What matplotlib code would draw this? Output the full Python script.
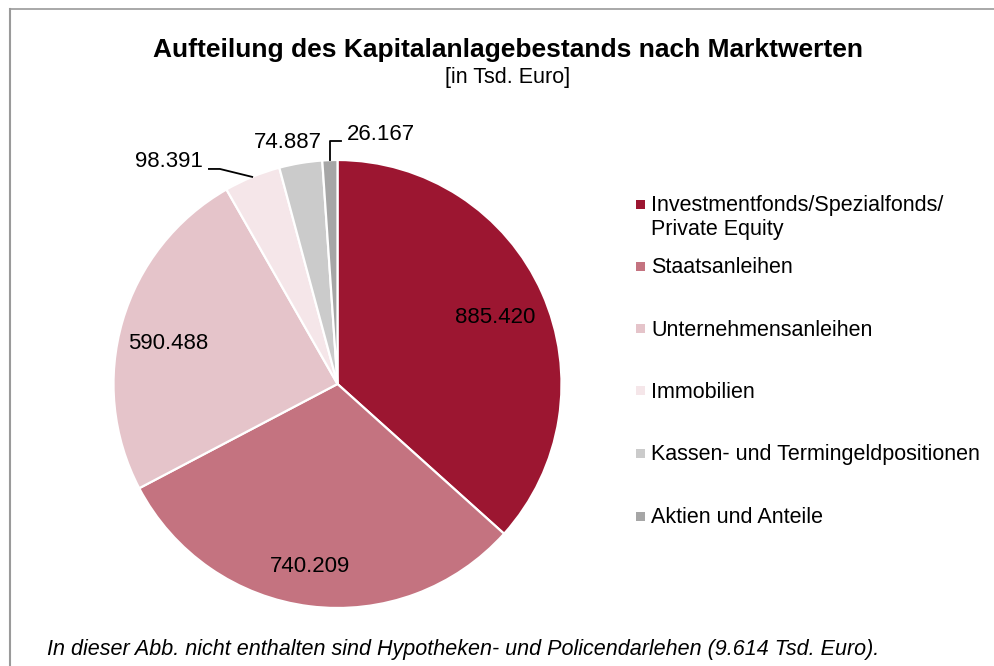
import matplotlib
matplotlib.use("Agg")
import matplotlib.pyplot as plt
from matplotlib.patches import Rectangle
from matplotlib.lines import Line2D
import numpy as np

categories = ["Investmentfonds/Spezialfonds/\nPrivate Equity", "Staatsanleihen",
              "Unternehmensanleihen", "Immobilien",
              "Kassen- und Termingeldpositionen", "Aktien und Anteile"]
values = [885420, 740209, 590488, 98391, 74887, 26167]
value_labels = ["885.420", "740.209", "590.488", "98.391", "74.887", "26.167"]
colors = ["#9C1631", "#C47380", "#E5C4CA", "#F5E6E9", "#CBCBCB", "#A6A6A6"]

title = "Aufteilung des Kapitalanlagebestands nach Marktwerten"
subtitle = "[in Tsd. Euro]"
footnote = "In dieser Abb. nicht enthalten sind Hypotheken- und Policendarlehen (9.614 Tsd. Euro)."

plt.rcParams['font.family'] = ['Liberation Sans', 'DejaVu Sans']

W, H = 995, 666
fig = plt.figure(figsize=(W / 100, H / 100), dpi=100)

# pie axes: center (337.5, 384) px, radius 224 px
cx, cy, r = 337.5, 384, 224
ax = fig.add_axes([(cx - r) / W, (H - cy - r) / H, 2 * r / W, 2 * r / H])
wedges, _ = ax.pie(values, colors=colors, startangle=90, counterclock=False,
                   radius=1, wedgeprops=dict(edgecolor="white", linewidth=1.6))
ax.set_xlim(-1, 1)
ax.set_ylim(-1, 1)
ax.set_aspect("equal")
ax.axis("off")

# label placements (data coords of the pie axes)
label_style = [
    dict(xy=(0.706, 0.296), ha="center"),
    dict(xy=(-0.123, -0.8125), ha="center"),
    dict(xy=(-0.757, 0.183), ha="center"),
    dict(xy=(-0.600, 0.993), ha="right"),
    dict(xy=(-0.223, 1.078), ha="center"),
    dict(xy=(0.041, 1.112), ha="left"),
]
for lab, st in zip(value_labels, label_style):
    ax.text(st["xy"][0], st["xy"][1], lab, ha=st["ha"], va="center",
            fontsize=16, color="black", clip_on=False)


def edge_point(i):
    total = sum(values)
    start = sum(values[:i]) / total * 360
    mid = start + values[i] / total * 360 / 2
    a = np.deg2rad(mid)
    return np.sin(a), np.cos(a)


ex, ey = edge_point(3)
ax.add_line(Line2D([-0.574, -0.525, ex], [0.960, 0.960, ey], color="black", lw=1.3, clip_on=False))
ex, ey = edge_point(5)
ax.add_line(Line2D([ex, ex, 0.0143], [ey, 1.085, 1.085], color="black", lw=1.3, clip_on=False))

# title / subtitle
fig.text(508 / W, 1 - 50 / H, title, ha="center", va="center", fontsize=19, fontweight="bold")
fig.text(508 / W, 1 - 78 / H, subtitle, ha="center", va="center", fontsize=15.5)

# legend
leg_y = [204, 266, 328.7, 390.7, 453, 516]
for cat, col, y in zip(categories, colors, leg_y):
    fig.patches.append(Rectangle((636 / W, 1 - (y + 4.5) / H), 9 / W, 9 / H,
                                 transform=fig.transFigure, facecolor=col, edgecolor="none"))
    fig.text(651 / W, 1 - (y - 9) / H, cat, ha="left", va="top", fontsize=15.5, linespacing=1.2)

# footnote
fig.text(47 / W, 1 - 650 / H, footnote, ha="left", va="center", fontsize=15.5, style="italic")

# border lines
fig.add_artist(Line2D([10.5 / W, 1], [1 - 8.5 / H, 1 - 8.5 / H], transform=fig.transFigure, color="#9A9A9A", lw=1.2))
fig.add_artist(Line2D([10.5 / W, 10.5 / W], [0, 1 - 8.5 / H], transform=fig.transFigure, color="#9A9A9A", lw=1.5))

fig.savefig("out.png", dpi=100, facecolor="white")
